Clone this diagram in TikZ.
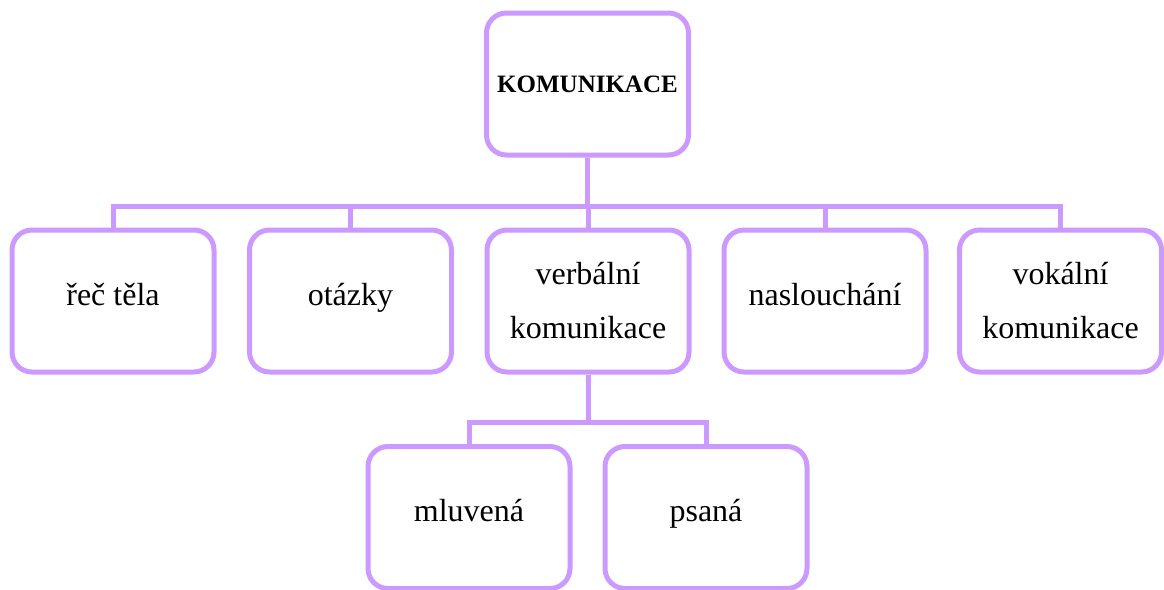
\documentclass[tikz,border=0pt]{standalone}
\usepackage{fontspec}
\setmainfont{Liberation Serif}
\definecolor{BoxClr}{RGB}{204,153,255}

\begin{document}
\begin{tikzpicture}[x=0.5pt,y=-0.5pt]
\tikzset{box/.style={draw=BoxClr,line width=2.5pt,rounded corners=10pt,
    minimum width=101pt,minimum height=71pt,inner sep=0pt,align=center,
    font=\fontsize{16}{27}\selectfont},
  oneline/.style={box,text height=8pt,text depth=4pt},
  link/.style={draw=BoxClr,line width=2.5pt}}

\useasboundingbox (0,0) rectangle (1164,590);

\node[box,font=\fontsize{12.5}{15}\selectfont\bfseries] (kom) at (587.5,84) {KOMUNIKACE};

\node[oneline] (rec) at (113,301) {řeč těla};
\node[oneline] (otazky) at (350.5,301) {otázky};
\node[box] (verb) at (588,301) {verbální\\komunikace};
\node[oneline] (nasl) at (825,301) {naslouchání};
\node[box] (vok) at (1060.5,301) {vokální\\komunikace};

\node[oneline] (mluv) at (469,517.5) {mluvená};
\node[oneline] (psana) at (706,517.5) {psaná};

\coordinate (bus) at (588,206);
\coordinate (bus2) at (588,422);

\draw[link] (kom.south) -- (kom.south |- bus);
\foreach \n in {rec,otazky,verb,nasl,vok}
  \draw[link] (kom.south |- bus) -| (\n.north);

\draw[link] (verb.south) -- (verb.south |- bus2);
\foreach \n in {mluv,psana}
  \draw[link] (verb.south |- bus2) -| (\n.north);

\end{tikzpicture}
\end{document}
